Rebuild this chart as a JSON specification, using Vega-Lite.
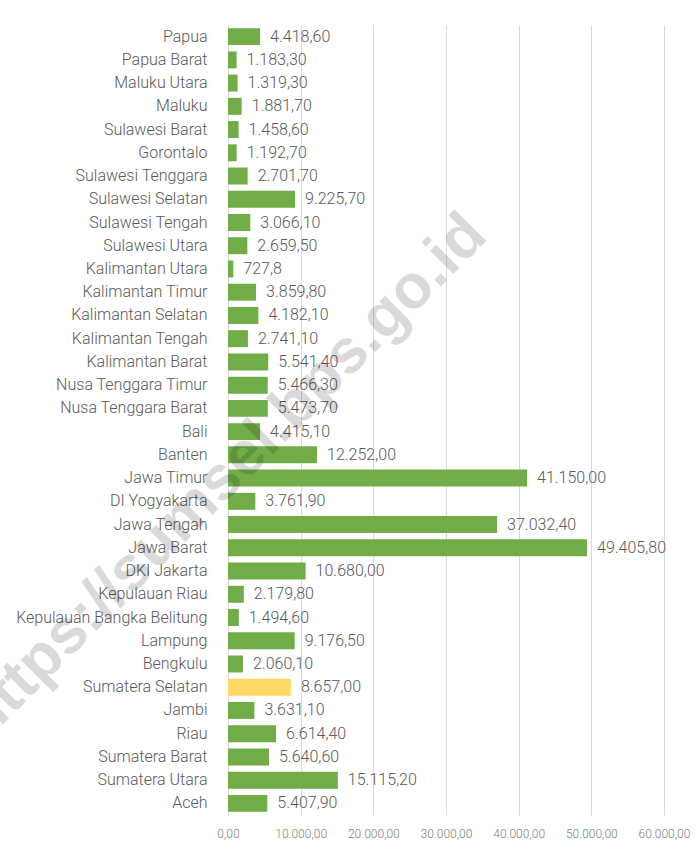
{
  "$schema": "https://vega.github.io/schema/vega-lite/v6.json",
  "width": 436,
  "height": 790,
  "autosize": {"type": "none"},
  "padding": {"left": 228, "top": 25, "right": 36, "bottom": 37},
  "background": "white",
  "config": {
    "view": {"stroke": null},
    "font": "Roboto",
    "locale": {"number": {"decimal": ",", "thousands": ".", "grouping": [3], "currency": ["", ""]}}
  },
  "data": {
    "values": [
      {"province": "Papua", "value": 4418.6, "label": "4.418,60"},
      {"province": "Papua Barat", "value": 1183.3, "label": "1.183,30"},
      {"province": "Maluku Utara", "value": 1319.3, "label": "1.319,30"},
      {"province": "Maluku", "value": 1881.7, "label": "1.881,70"},
      {"province": "Sulawesi Barat", "value": 1458.6, "label": "1.458,60"},
      {"province": "Gorontalo", "value": 1192.7, "label": "1.192,70"},
      {"province": "Sulawesi Tenggara", "value": 2701.7, "label": "2.701,70"},
      {"province": "Sulawesi Selatan", "value": 9225.7, "label": "9.225,70"},
      {"province": "Sulawesi Tengah", "value": 3066.1, "label": "3.066,10"},
      {"province": "Sulawesi Utara", "value": 2659.5, "label": "2.659,50"},
      {"province": "Kalimantan Utara", "value": 727.8, "label": "727,8"},
      {"province": "Kalimantan Timur", "value": 3859.8, "label": "3.859,80"},
      {"province": "Kalimantan Selatan", "value": 4182.1, "label": "4.182,10"},
      {"province": "Kalimantan Tengah", "value": 2741.1, "label": "2.741,10"},
      {"province": "Kalimantan Barat", "value": 5541.4, "label": "5.541,40"},
      {"province": "Nusa Tenggara Timur", "value": 5466.3, "label": "5.466,30"},
      {"province": "Nusa Tenggara Barat", "value": 5473.7, "label": "5.473,70"},
      {"province": "Bali", "value": 4415.1, "label": "4.415,10"},
      {"province": "Banten", "value": 12252, "label": "12.252,00"},
      {"province": "Jawa Timur", "value": 41150, "label": "41.150,00"},
      {"province": "DI Yogyakarta", "value": 3761.9, "label": "3.761,90"},
      {"province": "Jawa Tengah", "value": 37032.4, "label": "37.032,40"},
      {"province": "Jawa Barat", "value": 49405.8, "label": "49.405,80"},
      {"province": "DKI Jakarta", "value": 10680, "label": "10.680,00"},
      {"province": "Kepulauan Riau", "value": 2179.8, "label": "2.179,80"},
      {"province": "Kepulauan Bangka Belitung", "value": 1494.6, "label": "1.494,60"},
      {"province": "Lampung", "value": 9176.5, "label": "9.176,50"},
      {"province": "Bengkulu", "value": 2060.1, "label": "2.060,10"},
      {"province": "Sumatera Selatan", "value": 8657, "label": "8.657,00"},
      {"province": "Jambi", "value": 3631.1, "label": "3.631,10"},
      {"province": "Riau", "value": 6614.4, "label": "6.614,40"},
      {"province": "Sumatera Barat", "value": 5640.6, "label": "5.640,60"},
      {"province": "Sumatera Utara", "value": 15115.2, "label": "15.115,20"},
      {"province": "Aceh", "value": 5407.9, "label": "5.407,90"}
    ]
  },
  "encoding": {
    "y": {
      "field": "province",
      "type": "nominal",
      "sort": null,
      "scale": {"paddingInner": 0.27, "paddingOuter": 0.135},
      "axis": {
        "title": null,
        "domain": true,
        "domainColor": "#d9d9d9",
        "domainWidth": 1,
        "ticks": false,
        "labelPadding": 21,
        "labelFontSize": 16,
        "labelFontWeight": 300,
        "labelColor": "#595959",
        "labelFont": "Roboto",
        "labelLimit": 400
      }
    },
    "x": {
      "field": "value",
      "type": "quantitative",
      "scale": {"domain": [0, 60000], "nice": false},
      "axis": {
        "title": null,
        "values": [0, 10000, 20000, 30000, 40000, 50000, 60000],
        "format": ",.2f",
        "domain": false,
        "ticks": false,
        "grid": true,
        "gridColor": "#d9d9d9",
        "gridWidth": 1,
        "labelOverlap": false,
        "labelFlush": false,
        "labelFontSize": 12,
        "labelFontWeight": 300,
        "labelColor": "#808080",
        "labelFont": "Roboto",
        "labelPadding": 13
      }
    }
  },
  "layer": [
    {
      "mark": {"type": "bar"},
      "encoding": {
        "color": {
          "condition": {"test": "datum.province === 'Sumatera Selatan'", "value": "#FFD966"},
          "value": "#70AD47"
        }
      }
    },
    {
      "mark": {"type": "text", "align": "left", "baseline": "middle", "dx": 10, "fontSize": 16, "fontWeight": 300, "color": "#595959", "font": "Roboto"},
      "encoding": {"text": {"field": "label"}}
    },
    {
      "transform": [{"filter": "datum.province === 'Jawa Timur'"}],
      "mark": {"type": "text", "text": "https://sumsel.bps.go.id", "align": "center", "baseline": "middle", "angle": -45, "dy": -2, "fontSize": 62, "fontWeight": "bold", "font": "Liberation Sans", "color": "#000000", "opacity": 0.14, "clip": false},
      "encoding": {
        "x": {"datum": -400, "type": "quantitative"}
      }
    }
  ]
}
